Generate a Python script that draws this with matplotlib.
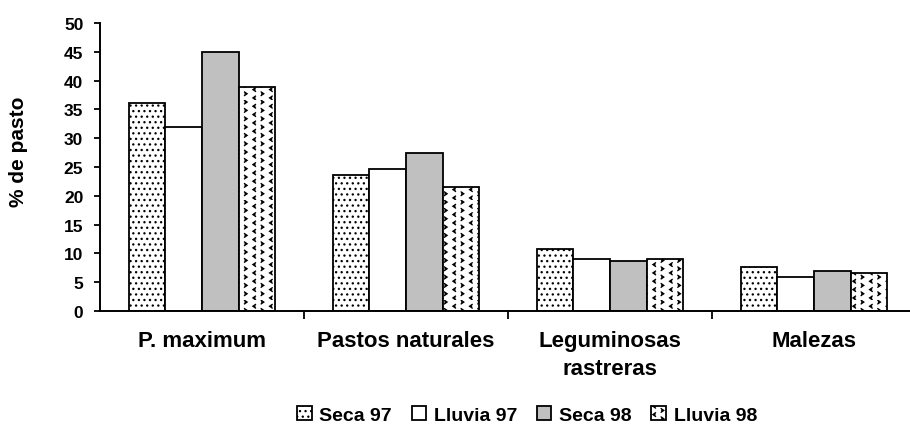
import matplotlib
matplotlib.use("Agg")
import matplotlib.pyplot as plt
from matplotlib import hatch as mhatch
from matplotlib.path import Path

# ---- data -------------------------------------------------------------
categories = ["P. maximum", "Pastos naturales", "Leguminosas\nrastreras", "Malezas"]
series = ["Seca 97", "Lluvia 97", "Seca 98", "Lluvia 98"]
seca_97 = [36.1, 23.6, 10.8, 7.6]
lluvia_97 = [31.9, 24.6, 9.0, 5.9]
seca_98 = [44.9, 27.4, 8.6, 6.9]
lluvia_98 = [38.9, 21.5, 9.0, 6.6]
y_ticks = [0, 5, 10, 15, 20, 25, 30, 35, 40, 45, 50]


# ---- a hatch of alternating "<" and ">" marks (selected with 'O') ------
class ChevronHatch(mhatch.HatchPatternBase):
    def __init__(self, hatch, density):
        self.num_rows = int(hatch.count('O') * density)
        self.num_vertices = self.num_rows * self.num_rows * 3

    def set_vertices_and_codes(self, vertices, codes):
        n = self.num_rows
        step = 1.0 / n
        w, h = 0.16 * step, 0.22 * step
        verts = []
        for j in range(n):
            x = (j + 0.5) * step
            d = -1 if j % 2 == 0 else 1
            for i in range(n):
                y = (i + 0.25 + 0.5 * (j % 2)) * step
                verts += [(x - d * w, y + h), (x + d * w, y), (x - d * w, y - h)]
        vertices[:] = verts
        codes[:] = [Path.MOVETO, Path.LINETO, Path.LINETO] * (n * n)


mhatch._hatch_types = [ChevronHatch if t is mhatch.LargeCircles else t
                       for t in mhatch._hatch_types]

plt.rcParams['font.family'] = ['Liberation Sans', 'DejaVu Sans']
plt.rcParams['font.weight'] = 'bold'
plt.rcParams['hatch.linewidth'] = 0.9

W, H = 910, 427
fig = plt.figure(figsize=(W / 100, H / 100), dpi=100)
ax = fig.add_axes([100 / W, (H - 312) / H, 810 / W, 288 / H])

values = [seca_97, lluvia_97, seca_98, lluvia_98]
fills = ['white', 'white', '#c0c0c0', 'white']
hatches = ['...', None, None, 'OO']
bw = 0.18
x = list(range(len(categories)))
for k, (name, vals) in enumerate(zip(series, values)):
    off = (k - 1.5) * bw
    ax.bar([xi + off for xi in x], vals, width=bw, color=fills[k],
           edgecolor='black', linewidth=1.3, hatch=hatches[k], label=name,
           zorder=2)

ax.set_ylim(0, 50)
ax.set_xlim(-0.5, -0.5 + 810 / 204)
ax.set_yticks(y_ticks)
ax.set_yticklabels([str(v) for v in y_ticks], fontsize=12.5, fontweight='bold')
ax.set_xticks(x)
ax.set_xticklabels(categories, fontsize=16, fontweight='bold', linespacing=1.4)
ax.set_xticks([0.5, 1.5, 2.5], minor=True)
ax.tick_params(axis='x', which='major', length=0, pad=14)
ax.tick_params(axis='x', which='minor', length=6, width=1.3, direction='out')
ax.tick_params(axis='y', length=4, width=1.3, direction='out', pad=8)

for s in ('top', 'right'):
    ax.spines[s].set_visible(False)
for s in ('left', 'bottom'):
    ax.spines[s].set_linewidth(1.4)

fig.text(19 / W, 1 - 151.5 / H, '% de pasto', rotation=90, ha='center',
         va='center', fontsize=15, fontweight='bold')

fig.legend(loc='center', bbox_to_anchor=(527 / W, 1 - 416 / H), ncol=4,
           frameon=False, handlelength=0.75, handleheight=0.75,
           handletextpad=0.4, columnspacing=1.0,
           prop={'size': 14, 'weight': 'bold'})

fig.savefig('out.png', dpi=100)
